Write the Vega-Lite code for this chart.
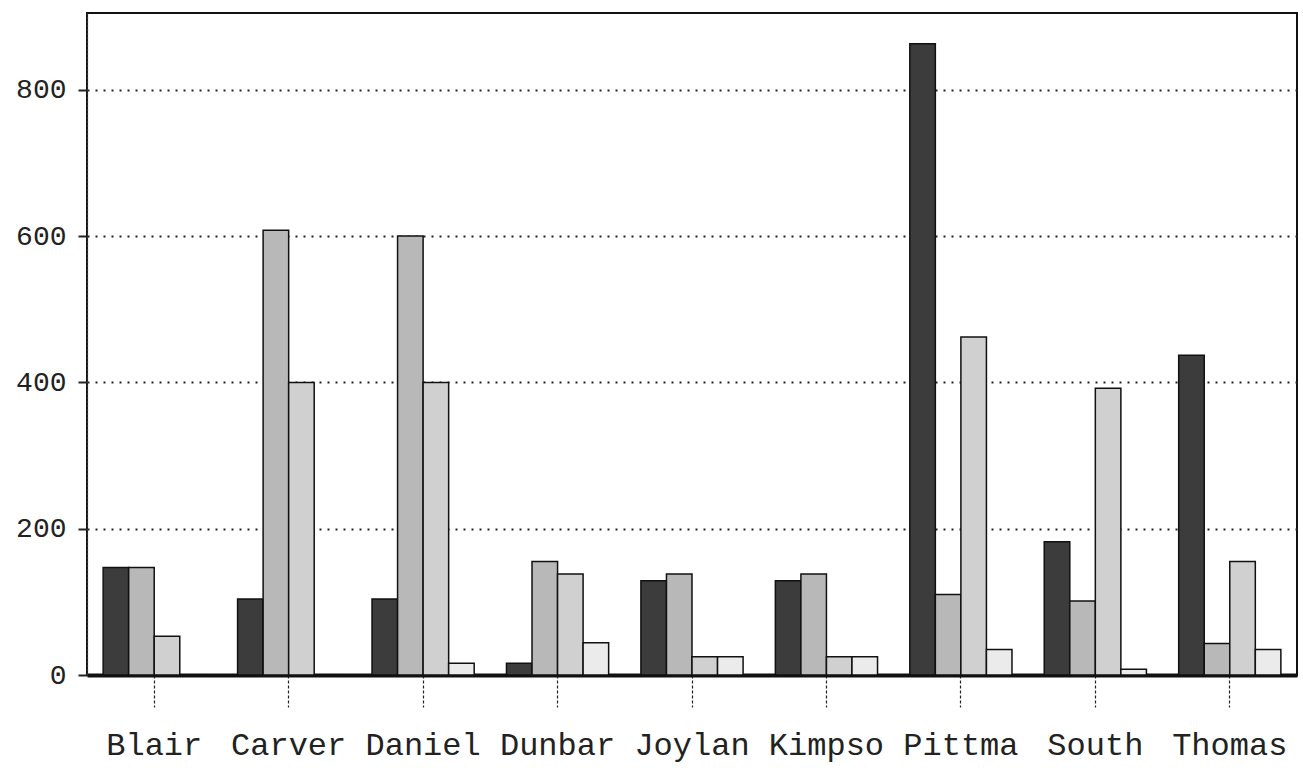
{
  "$schema": "https://vega.github.io/schema/vega-lite/v6.json",
  "width": 1210,
  "height": 662,
  "autosize": {"type": "none"},
  "padding": {"left": 87, "top": 13, "right": 6, "bottom": 108},
  "background": "white",
  "data": {
    "values": [
      {"school": "Blair", "series": "A", "value": 147},
      {"school": "Blair", "series": "B", "value": 147},
      {"school": "Blair", "series": "C", "value": 53},
      {"school": "Blair", "series": "D", "value": 0},
      {"school": "Carver", "series": "A", "value": 104},
      {"school": "Carver", "series": "B", "value": 608},
      {"school": "Carver", "series": "C", "value": 400},
      {"school": "Carver", "series": "D", "value": 0},
      {"school": "Daniel", "series": "A", "value": 104},
      {"school": "Daniel", "series": "B", "value": 600},
      {"school": "Daniel", "series": "C", "value": 400},
      {"school": "Daniel", "series": "D", "value": 16},
      {"school": "Dunbar", "series": "A", "value": 16},
      {"school": "Dunbar", "series": "B", "value": 155},
      {"school": "Dunbar", "series": "C", "value": 138},
      {"school": "Dunbar", "series": "D", "value": 44},
      {"school": "Joylan", "series": "A", "value": 129},
      {"school": "Joylan", "series": "B", "value": 138},
      {"school": "Joylan", "series": "C", "value": 25},
      {"school": "Joylan", "series": "D", "value": 25},
      {"school": "Kimpso", "series": "A", "value": 129},
      {"school": "Kimpso", "series": "B", "value": 138},
      {"school": "Kimpso", "series": "C", "value": 25},
      {"school": "Kimpso", "series": "D", "value": 25},
      {"school": "Pittma", "series": "A", "value": 863},
      {"school": "Pittma", "series": "B", "value": 110},
      {"school": "Pittma", "series": "C", "value": 462},
      {"school": "Pittma", "series": "D", "value": 35},
      {"school": "South", "series": "A", "value": 182},
      {"school": "South", "series": "B", "value": 101},
      {"school": "South", "series": "C", "value": 392},
      {"school": "South", "series": "D", "value": 8},
      {"school": "Thomas", "series": "A", "value": 437},
      {"school": "Thomas", "series": "B", "value": 43},
      {"school": "Thomas", "series": "C", "value": 155},
      {"school": "Thomas", "series": "D", "value": 35}
    ]
  },
  "mark": {"type": "bar", "stroke": "#111", "strokeWidth": 1.5},
  "encoding": {
    "x": {
      "field": "school",
      "type": "nominal",
      "sort": null,
      "scale": {"paddingInner": 0.24, "paddingOuter": 0.12},
      "axis": {
        "title": null,
        "labelAngle": 0,
        "labelFont": "Liberation Mono",
        "labelFontSize": 32,
        "labelColor": "#222",
        "labelPadding": 22,
        "domain": true,
        "domainColor": "#111",
        "domainWidth": 4,
        "ticks": true,
        "tickSize": 32,
        "tickDash": [3, 2],
        "tickColor": "#222",
        "tickWidth": 1.2
      }
    },
    "xOffset": {"field": "series", "type": "nominal", "scale": {"paddingInner": 0, "paddingOuter": 0}},
    "y": {
      "field": "value",
      "type": "quantitative",
      "scale": {"domain": [0, 905], "nice": false},
      "axis": {
        "title": null,
        "values": [0, 200, 400, 600, 800],
        "labelFont": "Liberation Mono",
        "labelFontSize": 28,
        "labelColor": "#222",
        "labelPadding": 12,
        "tickSize": 9,
        "tickWidth": 2,
        "tickColor": "#222",
        "domainColor": "#333",
        "domainWidth": 1.2,
        "domainDash": [3, 1],
        "grid": true,
        "gridDash": [2, 6],
        "gridColor": "#222",
        "gridWidth": 1.8
      }
    },
    "fill": {
      "field": "series",
      "type": "nominal",
      "scale": {"domain": ["A", "B", "C", "D"], "range": ["#3c3c3c", "#b8b8b8", "#d0d0d0", "#ebebeb"]},
      "legend": null
    }
  },
  "config": {
    "view": {"stroke": "#111", "strokeWidth": 2}
  }
}
